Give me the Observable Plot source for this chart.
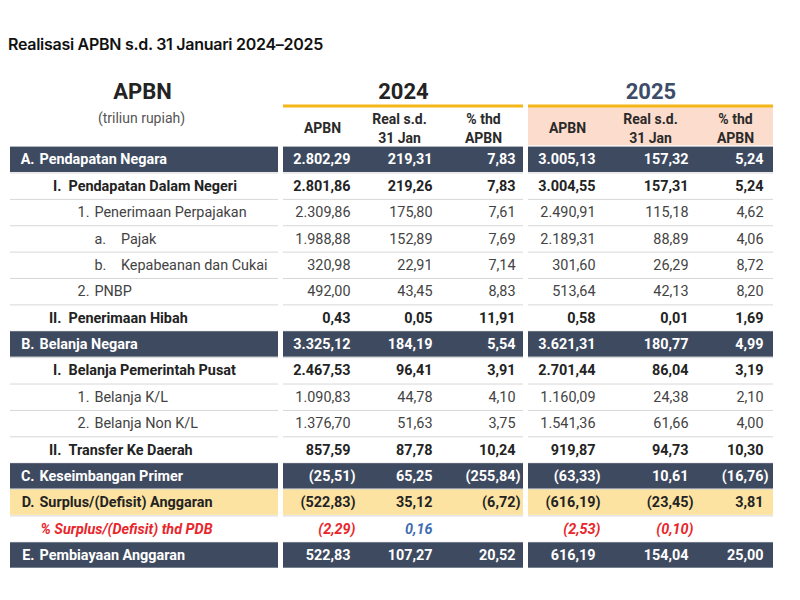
<!DOCTYPE html>
<html>
<head>
<meta charset="utf-8">
<script src="https://cdn.jsdelivr.net/npm/d3@7"></script>
<script src="https://cdn.jsdelivr.net/npm/@observablehq/plot@0.6"></script>
<style>
  body { margin: 0; background: #fff; }
  #title { position: absolute; left: 8px; top: 34px; font-family: Inter, sans-serif; font-weight: 600; font-size: 16px; letter-spacing: -0.28px; line-height: 20px; color: #111; white-space: nowrap; }
  #chart { position: absolute; left: 0; top: 60px; }
</style>
</head>
<body>
<div id="title"></div>
<div id="chart"></div>
<script>
// ---------------- data ----------------
const title = "Realisasi APBN s.d. 31 Januari 2024–2025";
const stubHeader = "APBN";
const unitLabel = "(triliun rupiah)";
const years = ["2024", "2025"];
const columnHeaders = ["APBN", "Real s.d.\n31 Jan", "% thd\nAPBN"];

const rowCodes = ["A.", "I.", "1.", "a.", "b.", "2.", "II.", "B.", "I.", "1.", "2.", "II.", "C.", "D.", "", "E."];
const rowNames = [
  "Pendapatan Negara", "Pendapatan Dalam Negeri", "Penerimaan Perpajakan", "Pajak",
  "Kepabeanan dan Cukai", "PNBP", "Penerimaan Hibah", "Belanja Negara",
  "Belanja Pemerintah Pusat", "Belanja K/L", "Belanja Non K/L", "Transfer Ke Daerah",
  "Keseimbangan Primer", "Surplus/(Defisit) Anggaran", "% Surplus/(Defisit) thd PDB", "Pembiayaan Anggaran"
];
const rowKinds = ["total", "sub", "item", "subitem", "subitem", "item", "sub", "total",
  "sub", "item", "item", "sub", "total", "balance", "ratio", "total"];

const apbn2024 = [2802.29, 2801.86, 2309.86, 1988.88, 320.98, 492.00, 0.43, 3325.12, 2467.53, 1090.83, 1376.70, 857.59, -25.51, -522.83, -2.29, 522.83];
const real2024 = [219.31, 219.26, 175.80, 152.89, 22.91, 43.45, 0.05, 184.19, 96.41, 44.78, 51.63, 87.78, 65.25, 35.12, 0.16, 107.27];
const pct2024  = [7.83, 7.83, 7.61, 7.69, 7.14, 8.83, 11.91, 5.54, 3.91, 4.10, 3.75, 10.24, -255.84, -6.72, null, 20.52];
const apbn2025 = [3005.13, 3004.55, 2490.91, 2189.31, 301.60, 513.64, 0.58, 3621.31, 2701.44, 1160.09, 1541.36, 919.87, -63.33, -616.19, -2.53, 616.19];
const real2025 = [157.32, 157.31, 115.18, 88.89, 26.29, 42.13, 0.01, 180.77, 86.04, 24.38, 61.66, 94.73, 10.61, -23.45, -0.10, 154.04];
const pct2025  = [5.24, 5.24, 4.62, 4.06, 8.72, 8.20, 1.69, 4.99, 3.19, 2.10, 4.00, 10.30, -16.76, 3.81, null, 25.00];

// ---------------- layout & style ----------------
const L = {
  labelPanel: [10, 278],
  panels: [[283, 523], [528, 773]],
  valueRight: [[350, 432, 515], [595, 688, 763]],
  headCenter: [[322, 399, 483], [567, 650, 735]],
  parenShift: 5,
  levels: {
    total:   {codeX: 34, codeAnchor: "end", textX: 39},
    balance: {codeX: 34, codeAnchor: "end", textX: 39},
    ratio:   {codeX: 34, codeAnchor: "end", textX: 40},
    sub:     {codeX: 61, codeAnchor: "end", textX: 68},
    item:    {codeX: 89, codeAnchor: "end", textX: 94},
    subitem: {codeX: 94, codeAnchor: "start", textX: 120.5}
  }
};
const FS = 14.4;
const C = {
  dark: "#3e4a5f", yellow: "#fde3a2", pink: "#fcdccc", gold: "#f5b617",
  sep: "#d7d7d7", red: "#e8262c", blue: "#3f6db3"
};
const bgOf = k => k === "total" ? C.dark : k === "balance" ? C.yellow : null;
const inkOf = (k, v) => k === "total" ? "#ffffff" : k === "ratio" ? (v != null && v >= 0 ? C.blue : C.red)
  : (k === "sub" || k === "balance") ? "#232323" : "#434343";
const boldKinds = new Set(["total", "balance", "sub"]);

// ---------------- derived tables ----------------
const idLocale = d3.formatLocale({decimal: ",", thousands: ".", grouping: [3], currency: ["Rp", ""]});
const fmt = idLocale.format(",.2f");
const show = v => v < 0 ? `(${fmt(-v)})` : fmt(v);

const series = [[apbn2024, real2024, pct2024], [apbn2025, real2025, pct2025]];
const rows = rowNames.map((name, i) => ({i, name, code: rowCodes[i], kind: rowKinds[i]}));

const valueCells = [];
rows.forEach(r => series.forEach((cols, p) => cols.forEach((arr, c) => {
  const v = arr[r.i];
  if (v == null) return;
  valueCells.push({i: r.i, kind: r.kind, v, text: show(v),
    x: L.valueRight[p][c] + (v < 0 ? L.parenShift : 0), fill: inkOf(r.kind, v)});
})));

const allPanels = [L.labelPanel, ...L.panels];
const bgCells = [];
rows.forEach(r => { const f = bgOf(r.kind); if (f) allPanels.forEach(p => bgCells.push({i: r.i, x1: p[0], x2: p[1], fill: f})); });
const separators = [];
for (let i = 1; i < rows.length; i++) allPanels.forEach(p => separators.push({y: i, x1: p[0], x2: p[1]}));

const labelCells = [];
rows.forEach(r => {
  const lv = L.levels[r.kind];
  if (r.code) labelCells.push({i: r.i, kind: r.kind, text: r.code, x: lv.codeX, anchor: lv.codeAnchor, fill: inkOf(r.kind, -1)});
  labelCells.push({i: r.i, kind: r.kind, text: r.name, x: lv.textX, anchor: "start", fill: inkOf(r.kind, -1)});
});

const headCells = [];
years.forEach((yr, p) => columnHeaders.forEach((h, c) => headCells.push({text: h, x: L.headCenter[p][c]})));

const yc = d => d.i + 0.5;
const txt = (data, opts) => Plot.text(data, {x: "x", y: yc, text: "text", fill: "fill", fontSize: FS, ...opts});

const chart = Plot.plot({
  width: 800, height: 540,
  margin: 0,
  x: {type: "linear", domain: [0, 800], range: [0, 800], axis: null},
  y: {type: "linear", domain: [0, 16], range: [86.1, 508.2], axis: null},
  color: {type: "identity"},
  style: {fontFamily: "Roboto", fontSize: "14px", background: "#fff", overflow: "visible"},
  marks: [
    Plot.ruleY(separators, {y: "y", x1: "x1", x2: "x2", stroke: C.sep, strokeWidth: 1}),
    Plot.rect(bgCells, {x1: "x1", x2: "x2", y1: d => d.i, y2: d => d.i + 1, fill: "fill", insetTop: 0.5, insetBottom: 0.5}),
    // header
    Plot.rect([L.panels[1]], {x1: d => d[0], x2: d => d[1], y1: () => -1.48, y2: () => -0.03, fill: C.pink}),
    Plot.ruleY(L.panels, {y: () => -1.54, x1: d => d[0], x2: d => d[1], stroke: C.gold, strokeWidth: 3}),
    Plot.text([stubHeader], {x: () => 142, y: () => -2.07, text: d => d, fontSize: 22, fontWeight: "bold", fill: "#232323"}),
    Plot.text([unitLabel], {x: () => 141, y: () => -1.06, text: d => d, fontSize: 14, fill: "#555"}),
    Plot.text(years, {x: (d, p) => (L.panels[p][0] + L.panels[p][1]) / 2, y: () => -2.09, text: d => d,
      fontSize: 22, fontWeight: "bold", fill: (d, p) => p === 0 ? "#232323" : "#3d4c68"}),
    Plot.text(headCells, {x: "x", y: () => -0.73, text: "text", fontSize: 14, fontWeight: "bold", lineHeight: 1.36, fill: "#2a2a2a"}),
    // labels
    txt(labelCells.filter(d => boldKinds.has(d.kind) && d.anchor === "start"), {textAnchor: "start", fontWeight: "bold"}),
    txt(labelCells.filter(d => boldKinds.has(d.kind) && d.anchor === "end"), {textAnchor: "end", fontWeight: "bold"}),
    txt(labelCells.filter(d => (d.kind === "item" || d.kind === "subitem") && d.anchor === "start"), {textAnchor: "start"}),
    txt(labelCells.filter(d => (d.kind === "item") && d.anchor === "end"), {textAnchor: "end"}),
    txt(labelCells.filter(d => d.kind === "ratio"), {textAnchor: "start", fontWeight: "bold", fontStyle: "italic"}),
    // values
    txt(valueCells.filter(d => boldKinds.has(d.kind)), {textAnchor: "end", fontWeight: "bold"}),
    txt(valueCells.filter(d => d.kind === "item" || d.kind === "subitem"), {textAnchor: "end"}),
    txt(valueCells.filter(d => d.kind === "ratio"), {textAnchor: "end", fontWeight: "bold", fontStyle: "italic"})
  ]
});

document.getElementById("title").textContent = title;
document.getElementById("chart").appendChild(chart);
</script>
</body>
</html>
